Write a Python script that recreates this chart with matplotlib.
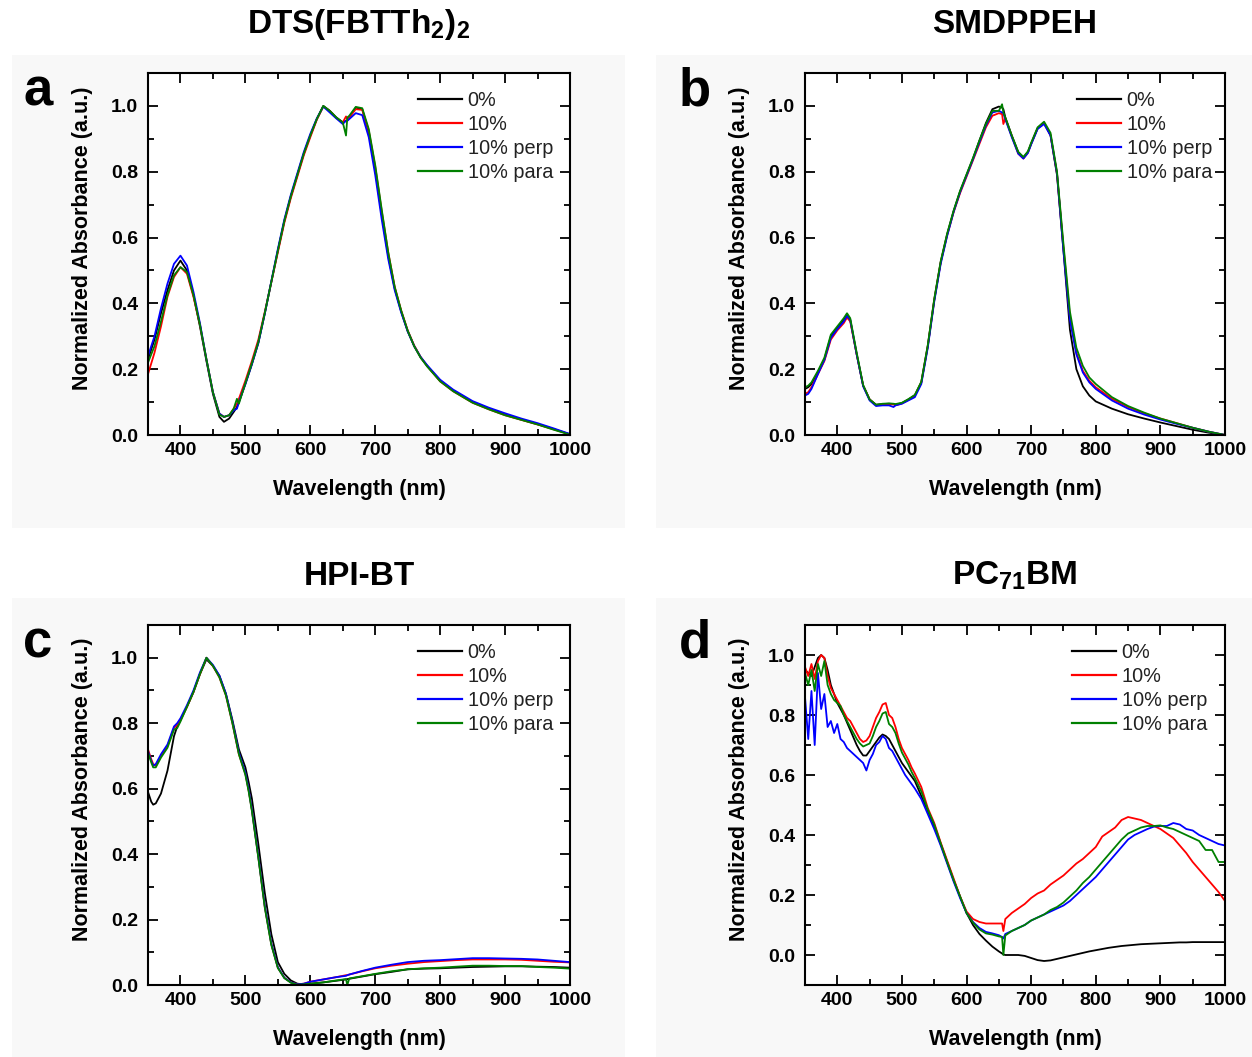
import matplotlib
matplotlib.use("Agg")
import matplotlib.pyplot as plt
from matplotlib.ticker import MultipleLocator
from matplotlib.patches import Rectangle

plt.rcParams['font.family'] = ['Liberation Sans', 'DejaVu Sans']
plt.rcParams['mathtext.default'] = 'regular'

# --- data (wavelength in nm, normalized absorbance) ---
labels = ['0%', '10%', '10% perp', '10% para']
colors = ['#000000', '#ff0000', '#0000ff', '#008000']

# a: DTS(FBTTh2)2
wl_a = [350, 360, 370, 380, 390, 400, 410, 420, 430, 440, 450, 460,
        467, 475, 482, 487, 490,
        500, 510, 520, 530, 540, 550, 560, 570, 580, 590, 600, 610, 620, 630, 640, 650,
        655, 657,
        660, 670, 680, 690, 700, 710, 720, 730, 740, 750, 760, 770, 780,
        800, 820, 850, 875, 900, 925, 950, 975, 1000]
a_0 = [0.23, 0.29, 0.37, 0.44, 0.50, 0.53, 0.50, 0.425, 0.33, 0.225, 0.125, 0.055,
       0.04, 0.05, 0.07, 0.085, 0.10,
       0.155, 0.215, 0.28, 0.37, 0.465, 0.56, 0.65, 0.725, 0.79, 0.855, 0.91, 0.96, 1.0, 0.985, 0.965, 0.95,
       0.955, 0.955,
       0.965, 0.995, 0.99, 0.92, 0.805, 0.67, 0.545, 0.445, 0.375, 0.315, 0.27, 0.235, 0.21,
       0.165, 0.135, 0.10, 0.08, 0.062, 0.047, 0.033, 0.018, 0.002]
a_10 = [0.185, 0.25, 0.33, 0.42, 0.48, 0.51, 0.49, 0.42, 0.335, 0.23, 0.13, 0.065,
        0.055, 0.06, 0.08, 0.095, 0.11,
        0.165, 0.225, 0.29, 0.375, 0.465, 0.555, 0.645, 0.72, 0.785, 0.85, 0.905, 0.958, 0.998, 0.985, 0.963, 0.95,
        0.968, 0.96,
        0.965, 0.99, 0.988, 0.925, 0.815, 0.68, 0.555, 0.45, 0.378, 0.318, 0.272, 0.237, 0.21,
        0.163, 0.133, 0.098, 0.078, 0.06, 0.046, 0.032, 0.017, 0.002]
a_perp = [0.24, 0.30, 0.385, 0.46, 0.52, 0.545, 0.515, 0.435, 0.34, 0.23, 0.13, 0.065,
          0.055, 0.06, 0.075, 0.08, 0.10,
          0.155, 0.215, 0.28, 0.37, 0.468, 0.565, 0.655, 0.73, 0.795, 0.86, 0.915, 0.962, 0.998, 0.98, 0.962, 0.945,
          0.955, 0.955,
          0.96, 0.978, 0.972, 0.905, 0.79, 0.655, 0.535, 0.44, 0.372, 0.315, 0.27, 0.237, 0.212,
          0.168, 0.138, 0.103, 0.083, 0.066, 0.05, 0.036, 0.02, 0.003]
a_para = [0.22, 0.27, 0.345, 0.425, 0.485, 0.51, 0.495, 0.425, 0.335, 0.23, 0.13, 0.062,
          0.055, 0.06, 0.08, 0.11, 0.095,
          0.158, 0.218, 0.283, 0.372, 0.466, 0.56, 0.65, 0.725, 0.79, 0.855, 0.91, 0.96, 1.0, 0.985, 0.965, 0.95,
          0.91, 0.965,
          0.97, 0.997, 0.993, 0.93, 0.82, 0.685, 0.555, 0.45, 0.378, 0.317, 0.27, 0.235, 0.208,
          0.163, 0.133, 0.098, 0.078, 0.06, 0.046, 0.032, 0.016, 0.001]

# b: SMDPPEH
wl_b = [350, 355, 360, 370, 380, 390, 400, 410, 415, 420, 430, 440, 450, 460, 470, 480,
        487, 490,
        500, 510, 520, 530, 540, 550, 560, 570, 580, 590, 600, 610, 620, 630, 640, 650,
        655, 657, 660, 670, 680, 688, 695,
        700, 710, 720, 730, 740, 750, 760, 770, 780, 790, 800,
        825, 850, 875, 900, 925, 950, 975, 1000]
b_0 = [0.14, 0.145, 0.155, 0.19, 0.23, 0.30, 0.325, 0.35, 0.365, 0.35, 0.245, 0.15, 0.108, 0.092, 0.094, 0.095,
       0.094, 0.092,
       0.097, 0.108, 0.12, 0.16, 0.27, 0.41, 0.525, 0.61, 0.68, 0.74, 0.79, 0.84, 0.895, 0.948, 0.99, 0.998,
       0.995, 0.99, 0.965, 0.91, 0.86, 0.843, 0.86,
       0.885, 0.932, 0.948, 0.91, 0.79, 0.56, 0.32, 0.20, 0.148, 0.12, 0.102,
       0.08, 0.063, 0.05, 0.038, 0.027, 0.016, 0.007, 0.0]
b_10 = [0.125, 0.13, 0.145, 0.185, 0.225, 0.29, 0.318, 0.34, 0.357, 0.345, 0.245, 0.15, 0.108, 0.09, 0.093, 0.094,
        0.093, 0.09,
        0.096, 0.107, 0.12, 0.16, 0.27, 0.41, 0.525, 0.607, 0.677, 0.735, 0.785, 0.835, 0.885, 0.935, 0.97, 0.978,
        0.975, 0.945, 0.962, 0.908, 0.855, 0.84, 0.858,
        0.885, 0.932, 0.948, 0.912, 0.795, 0.57, 0.36, 0.25, 0.195, 0.165, 0.145,
        0.11, 0.085, 0.066, 0.05, 0.036, 0.022, 0.01, 0.0]
b_perp = [0.12, 0.125, 0.14, 0.185, 0.228, 0.295, 0.322, 0.345, 0.362, 0.35, 0.245, 0.148, 0.105, 0.088, 0.09, 0.09,
          0.085, 0.09,
          0.095, 0.105, 0.115, 0.155, 0.265, 0.405, 0.52, 0.605, 0.678, 0.738, 0.788, 0.838, 0.89, 0.94, 0.98, 0.985,
          0.98, 0.978, 0.96, 0.905, 0.855, 0.84, 0.857,
          0.883, 0.93, 0.945, 0.91, 0.795, 0.56, 0.35, 0.245, 0.19, 0.16, 0.14,
          0.105, 0.08, 0.062, 0.047, 0.034, 0.022, 0.01, 0.0]
b_para = [0.145, 0.15, 0.16, 0.195, 0.235, 0.305, 0.33, 0.355, 0.37, 0.355, 0.25, 0.152, 0.108, 0.092, 0.095, 0.096,
          0.095, 0.094,
          0.098, 0.109, 0.122, 0.162, 0.273, 0.413, 0.528, 0.612, 0.682, 0.742, 0.792, 0.842, 0.895, 0.945, 0.985, 0.985,
          1.005, 0.98, 0.965, 0.91, 0.86, 0.845, 0.862,
          0.888, 0.935, 0.952, 0.918, 0.80, 0.58, 0.375, 0.265, 0.21, 0.175, 0.155,
          0.115, 0.088, 0.068, 0.05, 0.036, 0.022, 0.01, 0.0]

# c: HPI-BT
wl_c = [350, 355, 358, 362, 370, 380, 390, 395,
        400, 410, 420, 430, 440, 450, 460, 470, 480, 490, 500, 505,
        510, 520, 530, 540, 550, 560, 570, 580, 590, 600,
        620, 640, 655, 657, 660, 680, 700,
        725, 750, 775, 800, 825, 850, 875, 900, 925, 950, 975, 1000]
c_0 = [0.59, 0.56, 0.551, 0.555, 0.585, 0.655, 0.76, 0.79,
       0.81, 0.85, 0.895, 0.95, 0.995, 0.975, 0.945, 0.89, 0.81, 0.72, 0.665, 0.62,
       0.57, 0.43, 0.28, 0.155, 0.07, 0.034, 0.014, 0.004, 0.002, 0.004,
       0.008, 0.013, 0.017, 0.018, 0.019, 0.026, 0.033,
       0.04, 0.048, 0.05, 0.051, 0.053, 0.055, 0.056, 0.057, 0.057, 0.056, 0.055, 0.053]
c_10 = [0.72, 0.69, 0.675, 0.67, 0.70, 0.73, 0.785, 0.795,
        0.81, 0.85, 0.895, 0.95, 1.0, 0.975, 0.94, 0.885, 0.80, 0.705, 0.645, 0.595,
        0.535, 0.39, 0.237, 0.124, 0.053, 0.022, 0.008, 0.002, 0.004, 0.01,
        0.017, 0.024, 0.03, 0.03, 0.032, 0.042, 0.051,
        0.059, 0.065, 0.07, 0.073, 0.076, 0.078, 0.078, 0.078, 0.077, 0.074, 0.071, 0.069]
c_perp = [0.715, 0.685, 0.67, 0.675, 0.705, 0.735, 0.79, 0.80,
          0.815, 0.855, 0.90, 0.955, 1.0, 0.978, 0.945, 0.89, 0.805, 0.71, 0.648, 0.598,
          0.537, 0.392, 0.24, 0.126, 0.054, 0.022, 0.008, 0.002, 0.004, 0.01,
          0.017, 0.024, 0.028, 0.03, 0.032, 0.043, 0.053,
          0.062, 0.07, 0.074, 0.076, 0.079, 0.082, 0.082, 0.081, 0.08, 0.078, 0.074, 0.07]
c_para = [0.71, 0.68, 0.665, 0.665, 0.695, 0.725, 0.78, 0.785,
          0.805, 0.85, 0.895, 0.95, 1.0, 0.975, 0.94, 0.885, 0.80, 0.705, 0.642, 0.592,
          0.532, 0.388, 0.235, 0.122, 0.052, 0.021, 0.007, 0.001, 0.002, 0.004,
          0.008, 0.014, 0.018, 0.0, 0.02, 0.027, 0.034,
          0.042, 0.048, 0.051, 0.053, 0.056, 0.059, 0.059, 0.058, 0.058, 0.055, 0.053, 0.05]

# d: PC71BM
wl_d = [350, 355, 360, 365, 370, 375, 380, 385, 390, 395, 400, 405, 410, 415, 420, 425, 430, 435,
        440, 445, 450, 455, 460, 465, 470, 475, 480, 485, 490, 495, 500, 505, 510, 515, 520,
        530, 540, 550, 560, 570, 580, 590, 600, 610, 620, 630, 640, 650,
        655, 657, 660,
        670, 680, 690, 700, 710, 720, 730, 740, 750, 760, 770, 780, 790, 800, 810, 820, 830,
        840, 850, 860, 870, 880, 890, 900, 910, 920, 930, 940, 950, 960, 970, 980, 990, 1000]
d_0 = [0.95, 0.94, 0.93, 0.96, 0.99, 1.0, 0.99, 0.95, 0.90, 0.87, 0.84, 0.82, 0.80, 0.775, 0.75, 0.725, 0.70, 0.68,
       0.665, 0.665, 0.68, 0.695, 0.71, 0.725, 0.735, 0.73, 0.72, 0.70, 0.68, 0.66, 0.64, 0.625, 0.61, 0.595, 0.58,
       0.53, 0.48, 0.43, 0.37, 0.31, 0.25, 0.195, 0.14, 0.10, 0.07, 0.048, 0.028, 0.012,
       0.005, 0.002, 0.0,
       0.0, 0.0, -0.003, -0.01, -0.017, -0.02, -0.018, -0.013, -0.008, -0.003, 0.002, 0.007, 0.012, 0.016, 0.02, 0.024, 0.027,
       0.03, 0.032, 0.034, 0.036, 0.037, 0.038, 0.039, 0.04, 0.041, 0.042, 0.042, 0.043, 0.043, 0.043, 0.043, 0.043, 0.043]
d_10 = [0.96, 0.93, 0.97, 0.92, 0.98, 1.0, 0.99, 0.93, 0.89, 0.87, 0.85, 0.83, 0.81, 0.79, 0.78, 0.76, 0.74, 0.72,
        0.71, 0.715, 0.73, 0.76, 0.79, 0.81, 0.835, 0.84, 0.80, 0.79, 0.76, 0.72, 0.69, 0.67, 0.65, 0.625, 0.605,
        0.56, 0.49, 0.44, 0.375, 0.315, 0.255, 0.195, 0.145, 0.12, 0.11, 0.105, 0.105, 0.105,
        0.105, 0.08, 0.12,
        0.14, 0.155, 0.17, 0.19, 0.205, 0.215, 0.235, 0.25, 0.265, 0.285, 0.305, 0.32, 0.34, 0.36, 0.395, 0.41, 0.425,
        0.45, 0.46, 0.455, 0.45, 0.44, 0.43, 0.42, 0.405, 0.39, 0.365, 0.34, 0.31, 0.285, 0.26, 0.235, 0.21, 0.18]
d_perp = [0.86, 0.72, 0.88, 0.70, 0.94, 0.82, 0.87, 0.76, 0.78, 0.74, 0.77, 0.72, 0.71, 0.69, 0.68, 0.67, 0.66, 0.65,
          0.64, 0.615, 0.65, 0.67, 0.70, 0.71, 0.73, 0.72, 0.69, 0.68, 0.66, 0.64, 0.62, 0.60, 0.585, 0.57, 0.555,
          0.52, 0.47, 0.42, 0.365, 0.305, 0.245, 0.19, 0.14, 0.11, 0.09, 0.077, 0.072, 0.066,
          0.06, 0.055, 0.07,
          0.08, 0.09, 0.10, 0.115, 0.125, 0.135, 0.145, 0.155, 0.165, 0.18, 0.20, 0.22, 0.24, 0.26, 0.285, 0.31, 0.335,
          0.36, 0.385, 0.40, 0.41, 0.42, 0.428, 0.43, 0.43, 0.44, 0.435, 0.42, 0.415, 0.40, 0.39, 0.38, 0.37, 0.365]
d_para = [0.94, 0.90, 0.95, 0.88, 0.97, 0.93, 0.98, 0.90, 0.87, 0.85, 0.84, 0.83, 0.80, 0.78, 0.76, 0.74, 0.72, 0.705,
          0.695, 0.70, 0.705, 0.73, 0.76, 0.78, 0.805, 0.81, 0.77, 0.76, 0.74, 0.705, 0.675, 0.655, 0.635, 0.61, 0.59,
          0.545, 0.485, 0.435, 0.372, 0.31, 0.25, 0.195, 0.14, 0.108, 0.085, 0.072, 0.068, 0.062,
          0.06, 0.0, 0.065,
          0.08, 0.09, 0.10, 0.115, 0.125, 0.135, 0.15, 0.16, 0.175, 0.195, 0.215, 0.24, 0.26, 0.285, 0.31, 0.335, 0.36,
          0.385, 0.405, 0.415, 0.425, 0.43, 0.43, 0.432, 0.425, 0.42, 0.41, 0.40, 0.39, 0.38, 0.35, 0.35, 0.31, 0.31]

# --- figure layout in pixels ---
W, H = 1252, 1057
fig = plt.figure(figsize=(W / 100, H / 100), dpi=100)
fig.patch.set_facecolor('white')

# faint grey panel backgrounds like the source image (kept behind the axes)
for (x0, y0, x1, y1) in [(12, 55, 625, 528), (656, 55, 1252, 528),
                         (12, 598, 625, 1057), (656, 598, 1252, 1057)]:
    fig.patches.append(Rectangle((x0 / W, 1 - y1 / H), (x1 - x0) / W, (y1 - y0) / H,
                                 transform=fig.transFigure, facecolor='#f8f8f8',
                                 edgecolor='none', zorder=-10))

panels = [
    # (left, top, right, bottom), title, letter, ylim, wl, series, legend x
    ((148, 73, 570, 435), r'DTS(FBTTh$_2$)$_2$', 'a', (0, 1.1), wl_a, [a_0, a_10, a_perp, a_para], 418),
    ((805, 73, 1225, 435), 'SMDPPEH', 'b', (0, 1.1), wl_b, [b_0, b_10, b_perp, b_para], 1077),
    ((148, 625, 570, 985), 'HPI-BT', 'c', (0, 1.1), wl_c, [c_0, c_10, c_perp, c_para], 418),
    ((805, 625, 1225, 985), r'PC$_{71}$BM', 'd', (-0.1, 1.1), wl_d, [d_0, d_10, d_perp, d_para], 1072),
]

for (l, t, r, b), title, letter, ylim, wl, series, leg_x in panels:
    ax = fig.add_axes([l / W, 1 - b / H, (r - l) / W, (b - t) / H], zorder=1)
    ax.set_facecolor('white')
    for ys, lab, col in zip(series, labels, colors):
        ax.plot(wl, ys, color=col, lw=1.3, label=lab)

    ax.set_xlim(350, 1000)
    ax.set_ylim(*ylim)
    ax.xaxis.set_major_locator(MultipleLocator(100))
    ax.xaxis.set_minor_locator(MultipleLocator(50))
    ax.yaxis.set_major_locator(MultipleLocator(0.2))
    ax.yaxis.set_minor_locator(MultipleLocator(0.1))
    ax.yaxis.set_major_formatter(plt.FormatStrFormatter('%.1f'))
    ax.tick_params(which='both', direction='in', top=True, right=True, width=1.3)
    ax.tick_params(which='major', length=7, labelsize=14)
    ax.tick_params(axis='x', which='major', pad=5)
    ax.tick_params(axis='y', which='major', pad=7)
    ax.tick_params(which='minor', length=4)
    for lbl in ax.get_xticklabels() + ax.get_yticklabels():
        lbl.set_fontweight('bold')
    for sp in ax.spines.values():
        sp.set_linewidth(1.5)

    ax.set_xlabel('Wavelength (nm)', fontsize=15.5, fontweight='bold')
    ax.set_ylabel('Normalized Absorbance (a.u.)', fontsize=15.5, fontweight='bold')
    ax.xaxis.set_label_coords(0.5, -44 / (b - t))
    ax.yaxis.set_label_coords(-55 / (r - l), 0.5 + 16 / (b - t))

    leg = ax.legend(loc='upper left', bbox_to_anchor=((leg_x - l) / (r - l), 1 - 18 / (b - t)),
                    frameon=False, fontsize=14.3, borderaxespad=0, borderpad=0,
                    handlelength=2.2, handletextpad=0.3, labelspacing=0.25)
    for txt in leg.get_texts():
        txt.set_color('#222222')
    for hl in leg.get_lines():
        hl.set_linewidth(1.6)

    cx = (l + r) / 2
    fig.text(cx / W, 1 - (t - 40) / H, title, fontsize=24, fontweight='bold',
             ha='center', va='baseline')
    fig.text((l - 110) / W, 1 - (t + 19) / H, letter, fontsize=38, fontweight='bold',
             ha='center', va='center')

fig.savefig('out.png', dpi=100)
